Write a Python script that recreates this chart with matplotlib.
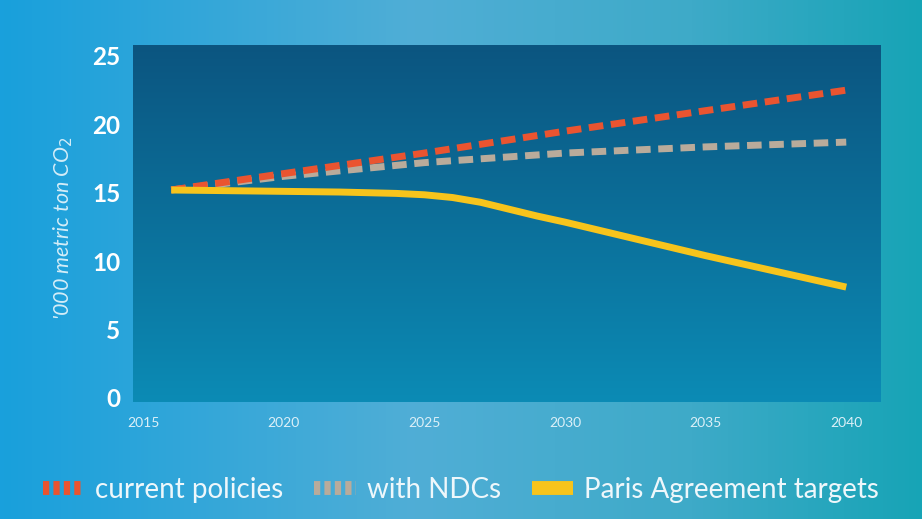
import numpy as np
import matplotlib
matplotlib.use("Agg")
import matplotlib.pyplot as plt
from matplotlib.colors import LinearSegmentedColormap
from matplotlib.lines import Line2D

# ---- data ----
years_current = [2016, 2020, 2025, 2030, 2035, 2040]
current_policies = [15.2, 16.4, 17.9, 19.5, 21.0, 22.5]

years_ndc = [2016, 2020, 2025, 2030, 2035, 2040]
with_ndcs = [15.2, 16.2, 17.2, 17.9, 18.35, 18.7]

years_paris = [2016, 2018, 2020, 2022, 2024, 2025, 2026, 2027, 2028, 2029, 2030, 2035, 2040]
paris_targets = [15.2, 15.15, 15.1, 15.05, 14.95, 14.85, 14.65, 14.3, 13.8, 13.3, 12.85, 10.4, 8.1]

x_ticks = [2015, 2020, 2025, 2030, 2035, 2040]
y_ticks = [0, 5, 10, 15, 20, 25]
labels = ["current policies", "with NDCs", "Paris Agreement targets"]

# ---- figure ----
W, H = 922, 519
fig = plt.figure(figsize=(W / 100, H / 100), dpi=100)

# background gradient
bg = fig.add_axes([0, 0, 1, 1], zorder=-10)
bg_cmap = LinearSegmentedColormap.from_list(
    "bg", [(0, "#19a0dc"), (0.45, "#50aed6"), (0.75, "#3eaac8"), (1, "#17a4b6")])
grad = np.linspace(0, 1, 256).reshape(1, -1)
bg.imshow(grad, aspect="auto", cmap=bg_cmap, extent=[0, 1, 0, 1])
bg.set_xlim(0, 1)
bg.set_ylim(0, 1)
bg.axis("off")

# plot axes
left, right, top, bottom = 133, 880, 45, 402
ax = fig.add_axes([left / W, 1 - bottom / H, (right - left) / W, (bottom - top) / H])
pa_cmap = LinearSegmentedColormap.from_list("pa", [(0, "#0b8bb5"), (1, "#0c5580")])
vgrad = np.linspace(0, 1, 256).reshape(-1, 1)
ax.imshow(vgrad, aspect="auto", cmap=pa_cmap, origin="lower",
          extent=[0, 1, 0, 1], transform=ax.transAxes, zorder=0)

red = "#ea5430"
gray = "#b9ab9b"
yellow = "#f7c41c"

ax.plot(years_ndc, with_ndcs, color=gray, lw=5, dashes=(2.1, 1.1),
        dash_capstyle="butt", zorder=3)
ax.plot(years_current, current_policies, color=red, lw=5, dashes=(2.1, 1.1),
        dash_capstyle="butt", zorder=4)
ax.plot(years_paris, paris_targets, color=yellow, lw=5, solid_capstyle="butt",
        solid_joinstyle="round", zorder=5)

ax.set_xlim(2014.64, 2041.2)
ax.set_ylim(-0.3, 25.8)
ax.set_xticks(x_ticks)
ax.set_yticks(y_ticks)
ax.tick_params(axis="both", length=0)
ax.tick_params(axis="y", pad=9, labelsize=17.5, labelcolor="white")
ax.tick_params(axis="x", pad=11, labelsize=10, labelcolor="#dcf0f8")
for t in ax.get_yticklabels():
    t.set_fontweight("bold")
    t.set_family("Lato")
for t in ax.get_xticklabels():
    t.set_family("Lato")
for s in ax.spines.values():
    s.set_visible(False)

fig.text(63 / W, 1 - 228 / H, "'000 metric ton CO$_2$", rotation=90,
         ha="center", va="center", fontsize=15.5, style="italic",
         color="#d4edf8", family="Lato")

handles = [
    Line2D([], [], color=red, lw=10, dashes=(0.45, 0.3), dash_capstyle="butt"),
    Line2D([], [], color=gray, lw=10, dashes=(0.45, 0.3), dash_capstyle="butt"),
    Line2D([], [], color=yellow, lw=10, solid_capstyle="butt"),
]
leg = fig.legend(handles, labels, loc="center", bbox_to_anchor=(0.5, 1 - 490 / H),
                 ncol=3, frameon=False, handlelength=1.5, handletextpad=0.4,
                 columnspacing=1.1, prop={"family": "Lato", "size": 20})
for t in leg.get_texts():
    t.set_color("#eef7fb")

fig.savefig("out.png", dpi=100)
